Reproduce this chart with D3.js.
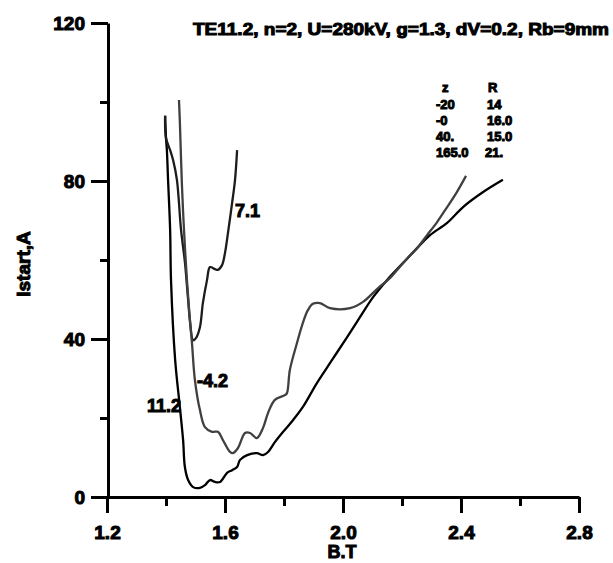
<!DOCTYPE html>
<html><head><meta charset="utf-8">
<script src="https://cdn.jsdelivr.net/npm/d3@7"></script>
<style>
html,body{margin:0;padding:0;background:#fff;}
text{font-family:"Liberation Sans",Arial,sans-serif;font-weight:bold;fill:#000;}
</style></head>
<body>
<svg id="chart" width="613" height="563"></svg>
<script>
// ---- data ----
const title = "TE11.2, n=2, U=280kV, g=1.3, dV=0.2, Rb=9mm";
const xLabel = "B.T";
const yLabel = "Istart,A";
const xTicks = [1.2, 1.6, 2.0, 2.4, 2.8];
const xTickLabels = ["1.2", "1.6", "2.0", "2.4", "2.8"];
const xMinorTicks = [1.4, 1.8, 2.2, 2.6];
const yTicks = [0, 40, 80, 120];
const yMinorTicks = [20, 60, 100];

const seriesNames = ["11.2", "7.1", "4.2"];
const s112_x = [1.397,1.400,1.403,1.407,1.414,1.417,1.431,1.447,1.458,1.464,1.475,1.492,1.515,1.532,1.549,1.566,1.583,1.607,1.624,1.641,1.651,1.675,1.708,1.729,1.746,1.769,1.797,1.831,1.864,1.912,1.963,2.014,2.058,2.102,2.149,2.203,2.251,2.295,2.353,2.407,2.475,2.542];
const s112_y = [96.5,90.9,87.8,80.3,67.6,54.9,34.7,22.8,14.4,7.6,4.3,2.5,2.3,3.0,4.3,3.8,3.8,6.1,6.8,7.6,9.4,10.6,11.1,10.6,11.4,13.9,16.5,19.5,22.8,28.9,34.7,40.5,45.6,50.6,54.9,59.2,63.0,66.3,69.4,73.4,77.2,80.3];
const s71_x = [1.397,1.400,1.414,1.424,1.437,1.451,1.464,1.475,1.481,1.492,1.502,1.515,1.525,1.539,1.549,1.566,1.576,1.590,1.600,1.610,1.624,1.634,1.641];
const s71_y = [96.5,90.9,87.8,85.3,80.3,67.6,59.5,49.9,44.8,39.7,40.3,43.0,49.1,54.9,58.2,57.7,57.5,58.7,61.8,66.8,74.4,80.3,87.8];
const s42_x = [1.444,1.447,1.454,1.461,1.471,1.481,1.488,1.498,1.515,1.532,1.556,1.576,1.593,1.617,1.627,1.644,1.668,1.685,1.708,1.729,1.746,1.769,1.803,1.810,1.820,1.844,1.864,1.881,1.898,1.922,1.956,2.024,2.068,2.119,2.159,2.203,2.251,2.285,2.319,2.353,2.386,2.417];
const s42_y = [100.5,94.9,79.0,67.6,54.9,44.8,39.0,29.6,22.0,17.7,16.5,16.5,14.4,11.4,11.1,12.4,16.2,16.2,14.9,17.5,21.3,24.6,25.8,26.3,32.2,39.0,44.1,47.3,48.9,49.1,47.8,47.8,49.4,52.9,55.4,59.2,63.0,66.3,69.6,73.4,77.2,81.3];

const tableHeader = ["z", "R"];
const tableZ = ["-20", "-0", "40.", "165.0"];
const tableR = ["14", "16.0", "15.0", "21."];

// ---- layout ----
const svg = d3.select("#chart");
const x = d3.scaleLinear().domain([1.2, 2.8]).range([107, 579]);
const y = d3.scaleLinear().domain([0, 120]).range([497, 23]);

const heavy = sel => sel.attr("stroke", "#000").attr("stroke-width", 1.0).attr("paint-order", "stroke");

// x axis
const xAxis = svg.append("g").attr("transform", "translate(0,497)")
  .call(d3.axisBottom(x).tickValues(xTicks).tickFormat((d,i)=>xTickLabels[i]).tickSize(16).tickSizeOuter(0).tickPadding(13));
xAxis.select(".domain").attr("stroke", "#000").attr("stroke-width", 3);
xAxis.selectAll(".tick line").attr("stroke", "#000").attr("stroke-width", 3);
xAxis.selectAll(".tick text").attr("font-size", 19).attr("font-family", "Liberation Sans, Arial, sans-serif").attr("font-weight", "bold").call(heavy);
svg.append("g").attr("transform", "translate(0,497)")
  .call(d3.axisBottom(x).tickValues(xMinorTicks).tickFormat("").tickSize(9).tickSizeOuter(0))
  .call(g => { g.select(".domain").remove(); g.selectAll("line").attr("stroke", "#000").attr("stroke-width", 3); });

// y axis
const yAxis = svg.append("g").attr("transform", "translate(108,0)")
  .call(d3.axisLeft(y).tickValues(yTicks).tickFormat(d3.format("d")).tickSize(17).tickSizeOuter(0).tickPadding(6));
yAxis.select(".domain").attr("stroke", "#000").attr("stroke-width", 3);
yAxis.selectAll(".tick line").attr("stroke", "#000").attr("stroke-width", 3);
yAxis.selectAll(".tick text").attr("font-size", 19).attr("font-family", "Liberation Sans, Arial, sans-serif").attr("font-weight", "bold").call(heavy);
svg.append("g").attr("transform", "translate(108,0)")
  .call(d3.axisLeft(y).tickValues(yMinorTicks).tickFormat("").tickSize(8).tickSizeOuter(0))
  .call(g => { g.select(".domain").remove(); g.selectAll("line").attr("stroke", "#000").attr("stroke-width", 3); });

// axis titles
svg.append("text").attr("x", 342).attr("y", 558).attr("text-anchor", "middle").attr("font-size", 18).text(xLabel).call(heavy);
svg.append("text").attr("transform", "translate(30,264) rotate(-90)").attr("text-anchor", "middle").attr("font-size", 19).text(yLabel).call(heavy);

// title
svg.append("text").attr("x", 193).attr("y", 35).attr("font-size", 16.5)
  .attr("textLength", 416).attr("lengthAdjust", "spacingAndGlyphs").text(title).call(heavy);

// curves
const line = d3.line().x(d => x(d[0])).y(d => y(d[1])).curve(d3.curveCatmullRom.alpha(0.5));
const series = [
  {name: seriesNames[0], xs: s112_x, ys: s112_y, color: "#000000"},
  {name: seriesNames[1], xs: s71_x, ys: s71_y, color: "#1c1c1c"},
  {name: seriesNames[2], xs: s42_x, ys: s42_y, color: "#404040"}
];
series.forEach(s => {
  const pts = s.xs.map((v,i) => [v, s.ys[i]]);
  svg.append("path").datum(pts).attr("d", line).attr("fill", "none")
    .attr("stroke", s.color).attr("stroke-width", 2.3).attr("stroke-linejoin", "round");
});

// curve labels
svg.append("text").attr("x", 147).attr("y", 412).attr("font-size", 18).text(seriesNames[0]).call(heavy);
svg.append("text").attr("x", 235).attr("y", 217).attr("font-size", 18).text(seriesNames[1]).call(heavy);
svg.append("text").attr("x", 197).attr("y", 387).attr("font-size", 18).text("-" + seriesNames[2]).call(heavy);

// table
const tbl = svg.append("g");
tbl.append("text").attr("x", 442).attr("y", 92).attr("font-size", 13).text(tableHeader[0]).call(heavy);
tbl.append("text").attr("x", 488).attr("y", 92).attr("font-size", 13).text(tableHeader[1]).call(heavy);
tableZ.forEach((t,i) => {
  tbl.append("text").attr("x", 436).attr("y", 108.5 + i*16.3).attr("font-size", 13).text(t).call(heavy);
  tbl.append("text").attr("x", i === 3 ? 485 : 487).attr("y", 108.5 + i*16.3).attr("font-size", 13).text(tableR[i]).call(heavy);
});
</script>
</body></html>
